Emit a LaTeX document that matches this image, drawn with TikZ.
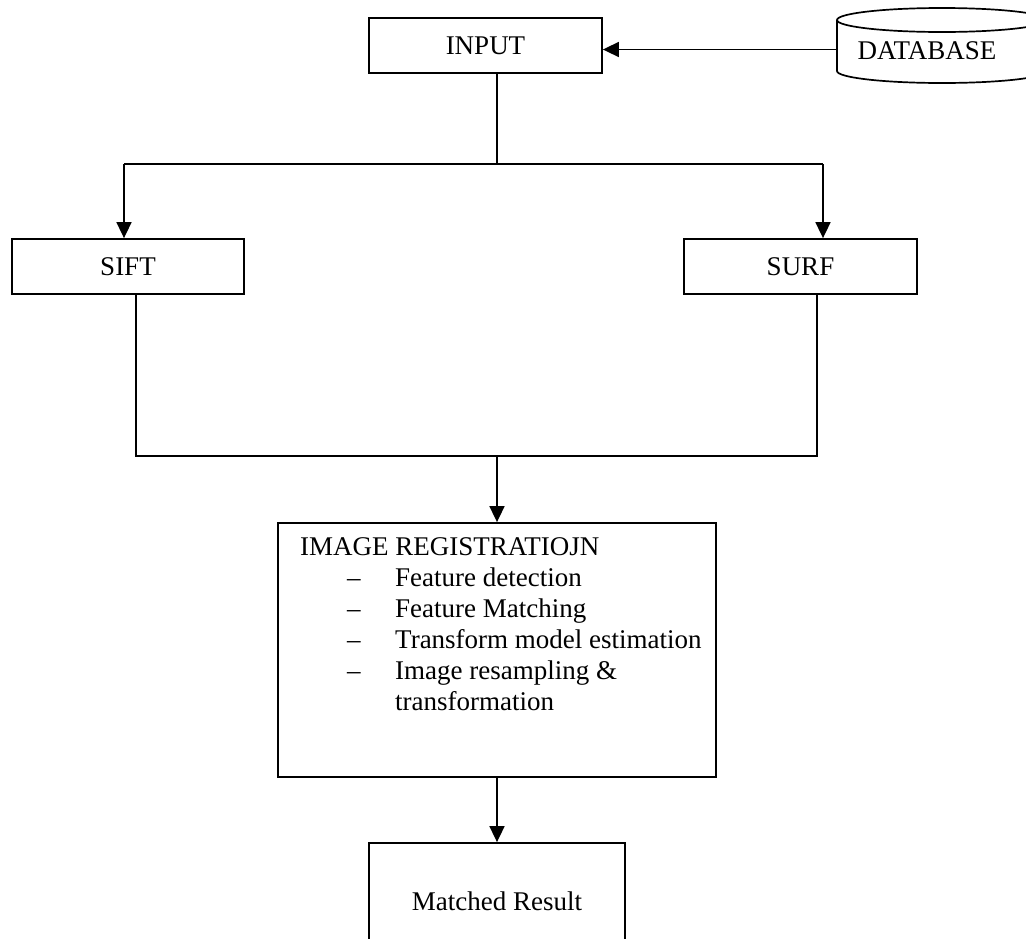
\documentclass[tikz,border=0pt]{standalone}
\usepackage{fontspec}
\setmainfont{Liberation Serif}
\usetikzlibrary{arrows.meta,calc}
\begin{document}
\begin{tikzpicture}[x=1pt,y=-1pt,
  every node/.style={font=\fontsize{27}{31}\selectfont},
  box/.style={draw,line width=1.8pt,rectangle,inner sep=0pt},
  txt/.style={anchor=base west,inner sep=0pt},
  conn/.style={line width=1.7pt},
  arr/.style={conn,-{Triangle[length=16pt,width=15pt]}}]
\useasboundingbox (0,0) rectangle (1026,938);

% database cylinder
\draw[conn] (942,20) ellipse [x radius=105, y radius=12];
\draw[conn] (837,20) -- (837,71) arc[start angle=180, end angle=0, x radius=105, y radius=12] -- (1047,20);
\node (db) at (927,51) {DATABASE};
\coordinate (dbin) at (837,49.5);

% boxes
\node[box, minimum width=233pt, minimum height=55pt] (input) at (485.5,45.5) {INPUT};
\node[box, minimum width=232pt, minimum height=55pt] (sift) at (128,266.5) {SIFT};
\node[box, minimum width=233pt, minimum height=55pt] (surf) at (800.5,266.5) {SURF};
\node[box, minimum width=438pt, minimum height=254pt] (ir) at (497,650) {};
\node[box, minimum width=256pt, minimum height=116pt] (res) at (497,901) {Matched Result};

% registration text
\node[txt] (irt) at (300,555) {IMAGE REGISTRATIOJN};
\node[txt] (ir1) at (347,586) {\makebox[48pt][l]{--}Feature detection};
\node[txt] (ir2) at (347,617) {\makebox[48pt][l]{--}Feature Matching};
\node[txt] (ir3) at (347,648) {\makebox[48pt][l]{--}Transform model estimation};
\node[txt] (ir4) at (347,679) {\makebox[48pt][l]{--}Image resampling \&};
\node[txt] (ir5) at (395,710) {transformation};

% connectors
\draw[arr] (dbin) -- (dbin -| input.east);

\coordinate (j1) at (497,164);
\coordinate (jl) at (124,164);
\coordinate (jr) at (823,164);
\draw[conn] (input.south -| j1) -- (j1);
\draw[conn] (jl) -- (jr);
\draw[arr] (jl) -- (jl |- sift.north);
\draw[arr] (jr) -- (jr |- surf.north);

\coordinate (kl) at (136,456);
\coordinate (kr) at (817,456);
\draw[conn] (kl |- sift.south) -- (kl) -- (kr) -- (kr |- surf.south);
\draw[arr] (ir.north |- kl) -- (ir.north);
\draw[arr] (ir.south) -- (res.north);
\end{tikzpicture}
\end{document}
